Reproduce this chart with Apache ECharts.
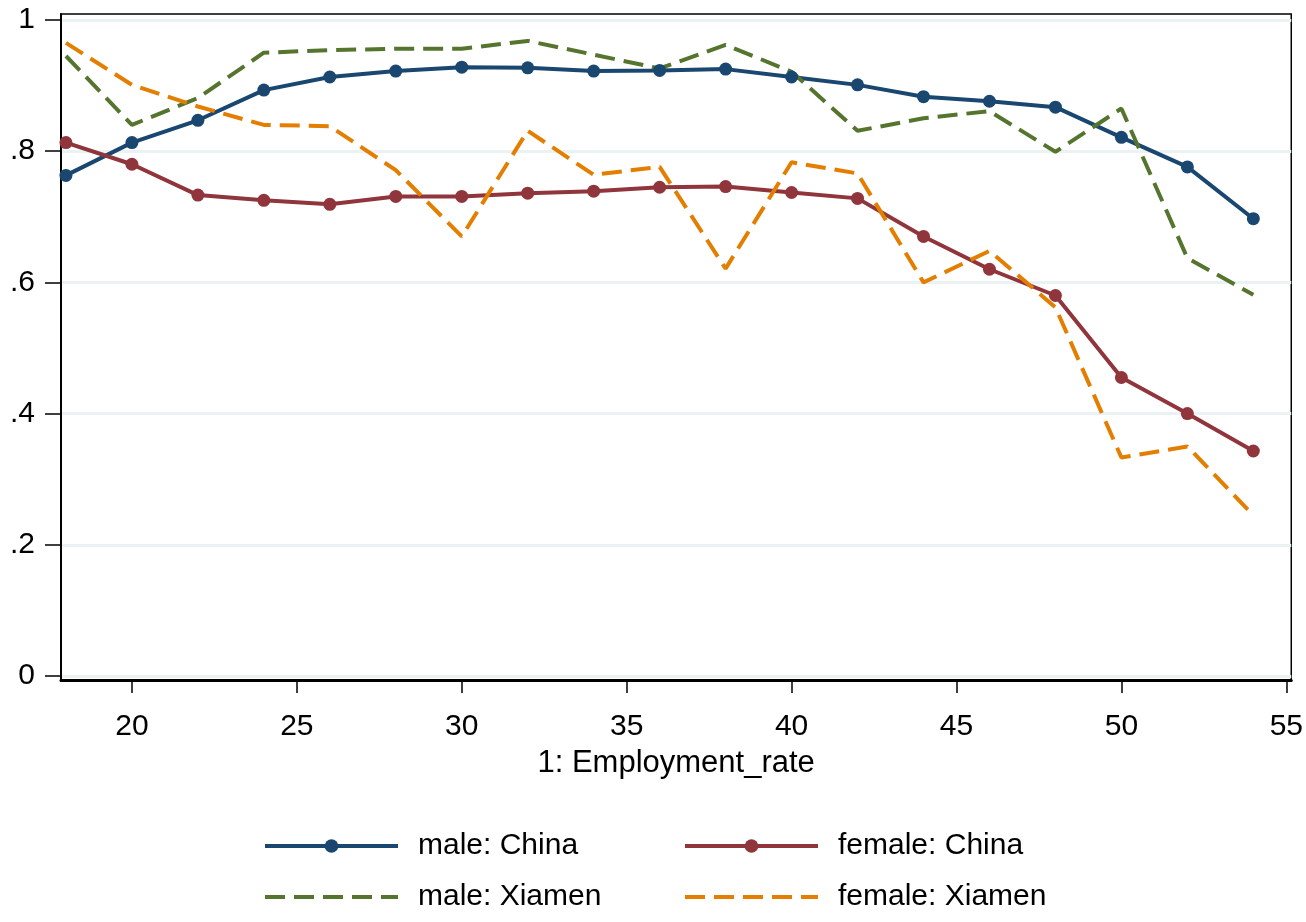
<!DOCTYPE html>
<html>
<head>
<meta charset="utf-8">
<script src="https://cdn.jsdelivr.net/npm/echarts@6/dist/echarts.min.js"></script>
<style>
html,body{margin:0;padding:0;background:#fff;}
#main{width:1306px;height:922px;}
</style>
</head>
<body>
<div id="main"></div>
<script>
const ages = [18,20,22,24,26,28,30,32,34,36,38,40,42,44,46,48,50,52,54];
const maleChina    = [0.763,0.813,0.847,0.893,0.913,0.922,0.928,0.927,0.922,0.923,0.925,0.913,0.901,0.883,0.876,0.867,0.821,0.776,0.697];
const femaleChina  = [0.813,0.780,0.733,0.725,0.719,0.731,0.731,0.736,0.739,0.745,0.746,0.737,0.728,0.670,0.620,0.580,0.455,0.400,0.343];
const maleXiamen   = [0.945,0.840,0.881,0.950,0.954,0.956,0.956,0.968,0.947,0.926,0.962,0.921,0.831,0.850,0.861,0.799,0.865,0.637,0.581];
const femaleXiamen = [0.965,0.901,0.868,0.840,0.838,0.771,0.670,0.831,0.764,0.776,0.621,0.783,0.766,0.600,0.648,0.562,0.333,0.350,0.245];
const xTicks = [20,25,30,35,40,45,50,55];
const yTicks = [0,0.2,0.4,0.6,0.8,1];
const seriesNames = ['male: China','female: China','male: Xiamen','female: Xiamen'];
const xTitle = '1: Employment_rate';

const FONT = "'Liberation Sans', Arial, sans-serif";
const colors = ['#1a476f','#90353b','#55752f','#e37e00'];

function pairs(vals){ return ages.map((a,i)=>[a, vals[i]]); }

const legendText = {fontFamily:FONT, fontSize:30, color:'#000', padding:[0,0,0,15]};
function legendCol(left, solidName, dashName){
  return {
    data:[{name:solidName}, {name:dashName, itemStyle:{opacity:0}}],
    orient:'vertical', left:left, top:831, height:120, padding:0,
    itemWidth:133, itemHeight:17, itemGap:21,
    lineStyle:{width:4}, textStyle:legendText
  };
}

const chart = echarts.init(document.getElementById('main'), null, {renderer:'canvas'});
const option = {
  backgroundColor:'#fff',
  animation:false,
  grid:{left:61, right:14, top:14, bottom:242, show:true, borderColor:'#000', borderWidth:1.5, backgroundColor:'transparent'},
  xAxis:{
    type:'value', min:17.85, max:55.15,
    name:xTitle, nameLocation:'middle', nameGap:68,
    nameTextStyle:{fontFamily:FONT, fontSize:31, color:'#000'},
    axisLine:{show:true, onZero:false, lineStyle:{color:'#000', width:3}},
    axisTick:{show:true, customValues:xTicks, length:13, lineStyle:{color:'#000', width:1.5}},
    axisLabel:{customValues:xTicks, margin:32, fontFamily:FONT, fontSize:30, color:'#000'},
    splitLine:{show:false}
  },
  yAxis:{
    type:'value', min:-0.006, max:1.009,
    axisLine:{show:true, onZero:false, lineStyle:{color:'#000', width:2}},
    axisTick:{show:true, customValues:yTicks, length:16, lineStyle:{color:'#000', width:1.5}},
    axisLabel:{customValues:yTicks, margin:26, fontFamily:FONT, fontSize:30, color:'#000',
      formatter:v=>{ if (Math.abs(v)<1e-9) return '0'; if (Math.abs(v-1)<1e-9) return '1'; return v.toFixed(1).replace(/^0/,''); }},
    splitLine:{show:true, lineStyle:{color:'#eaf2f3', width:3}}
  },
  legend:[
    legendCol(263, seriesNames[0], seriesNames[2]),
    legendCol(683, seriesNames[1], seriesNames[3])
  ],
  series:[
    {name:seriesNames[0], type:'line', data:pairs(maleChina), symbol:'circle', symbolSize:13, showAllSymbol:true,
     lineStyle:{color:colors[0], width:4}, itemStyle:{color:colors[0]}},
    {name:seriesNames[1], type:'line', data:pairs(femaleChina), symbol:'circle', symbolSize:13, showAllSymbol:true,
     lineStyle:{color:colors[1], width:4}, itemStyle:{color:colors[1]}},
    {name:seriesNames[2], type:'line', data:pairs(maleXiamen), symbol:'none',
     lineStyle:{color:colors[2], width:4, type:[20,9]}, itemStyle:{color:colors[2]}},
    {name:seriesNames[3], type:'line', data:pairs(femaleXiamen), symbol:'none',
     lineStyle:{color:colors[3], width:4, type:[20,9]}, itemStyle:{color:colors[3]}}
  ]
};
chart.setOption(option);
</script>
</body>
</html>
